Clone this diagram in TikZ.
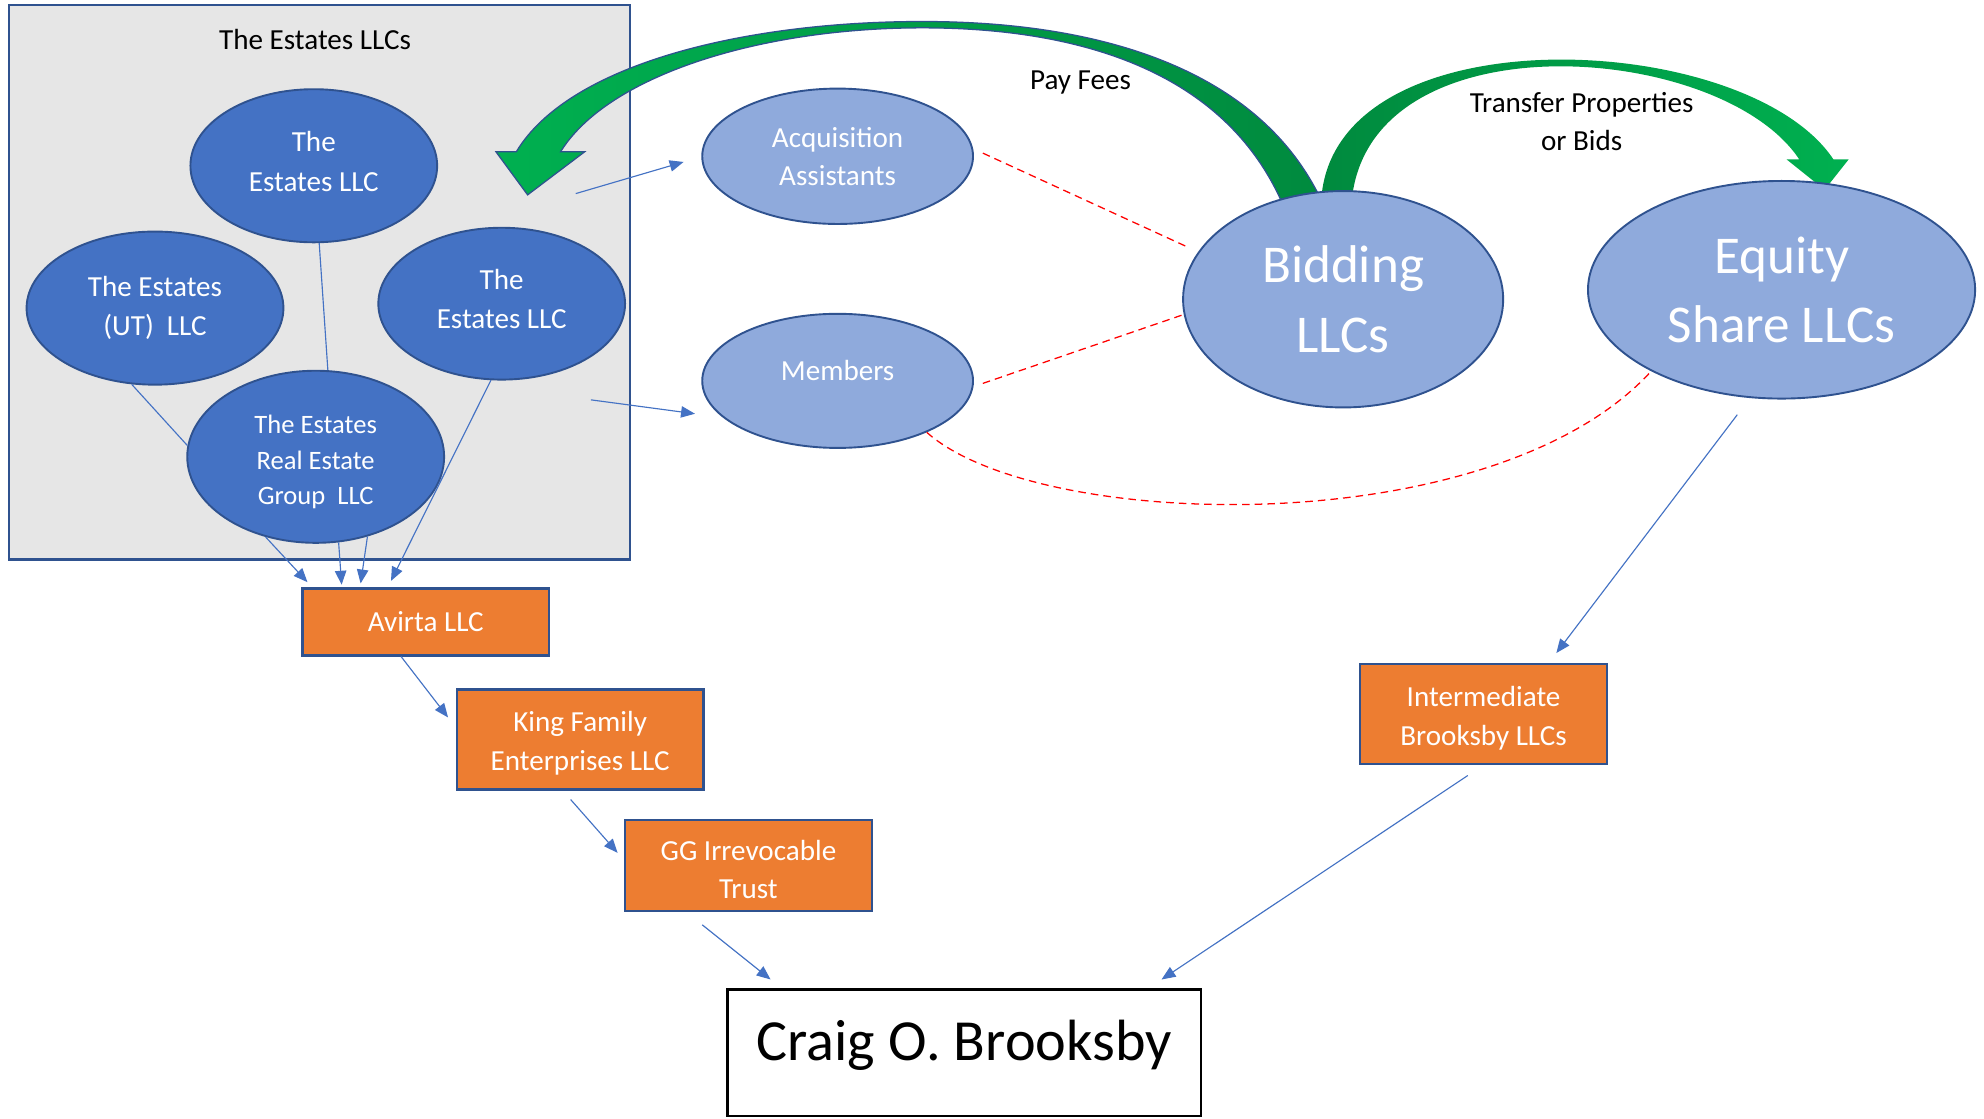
\documentclass[tikz,border=0pt]{standalone}
\usepackage{fontspec}
\setmainfont{Carlito}
\usetikzlibrary{shapes.geometric,arrows.meta}
\definecolor{dblue}{HTML}{4472C4}
\definecolor{lblue}{HTML}{8FAADC}
\definecolor{bordc}{HTML}{2F528F}
\definecolor{orng}{HTML}{ED7D31}
\definecolor{grayc}{HTML}{E6E6E6}
\definecolor{cblue}{HTML}{4472C4}
\definecolor{gbright}{HTML}{00B050}
\definecolor{gdark}{HTML}{008A3E}
\definecolor{gmid}{HTML}{00A046}
\newcommand{\dstrut}[1]{\rule[-#1]{0pt}{#1}}
\newcommand{\hstrut}[1]{\rule{0pt}{#1}}
\tikzset{
  darkell/.style={ellipse, draw=bordc, line width=1.5pt, fill=dblue, text=white, inner sep=0pt, align=center, font=\fontsize{23}{31}\selectfont},
  lightell/.style={ellipse, draw=bordc, line width=1.5pt, fill=lblue, text=white, inner sep=0pt, align=center},
  obox/.style={rectangle, draw=bordc, line width=1.8pt, fill=orng, text=white, align=center, minimum width=195pt, inner sep=0pt, font=\fontsize{23}{30.5}\selectfont},
  conn/.style={draw=cblue, line width=0.9pt, -{Triangle[length=11pt,width=9pt]}},
  plainln/.style={draw=cblue, line width=0.9pt},
  reddash/.style={draw=red, line width=1pt, dash pattern=on 6pt off 4pt},
  lbl/.style={text=black, align=center, inner sep=0pt, font=\fontsize{23}{30}\selectfont}
}
\begin{document}
\begin{tikzpicture}[x=1pt,y=-1pt]
\useasboundingbox (0,0) rectangle (1568,884);
\fill[white] (0,0) rectangle (1568,884);

% container
\node[draw=bordc, line width=2pt, fill=grayc, minimum width=491pt, minimum height=438pt, inner sep=0pt] (gbox) at (252.5,223) {};
\node[lbl] (ttl) at (249,31) {The Estates LLCs};

% green arrows
\shadedraw[draw=bordc, line width=1pt, left color=gbright, right color=gdark]
  (443,120) .. controls (480,60) and (600,22) .. (729,22) .. controls (860,22) and (970,60) .. (1014,162)
  -- (1046,162) .. controls (1000,60) and (880,17) .. (729,17) .. controls (590,17) and (450,50) .. (408,120)
  -- (392,120) -- (417,154) -- (462,120) -- cycle;
\shade[left color=gdark, middle color=gmid, right color=gbright]
  (1044,162) .. controls (1048,8) and (1380,22) .. (1449,126) -- (1461,126) -- (1442,150) -- (1412,126) -- (1422,126)
  .. controls (1360,32) and (1078,12) .. (1068,162) -- cycle;
\node[lbl] (pf) at (854,65) {Pay Fees};
\node[lbl] (tp) at (1250,96) {Transfer Properties\\or Bids};

% estates ellipses
\node[darkell, minimum width=195pt, minimum height=121pt] (e1) at (248,131) {The\\Estates LLC\dstrut{7pt}};
\node[darkell, minimum width=203pt, minimum height=121pt] (eut) at (122.5,243.5) {The Estates\\(UT)\ \ LLC};
\node[darkell, minimum width=195pt, minimum height=120pt] (er) at (396.5,240) {The\\Estates LLC\dstrut{7pt}};
\node[darkell, minimum width=203pt, minimum height=136pt, font=\fontsize{21}{28}\selectfont] (erg) at (249.5,361) {\hstrut{23pt}The Estates\\Real Estate\\Group\ \ LLC};

% light ellipses
\node[lightell, minimum width=214pt, minimum height=107pt, font=\fontsize{23}{30}\selectfont] (acq) at (662,123.5) {Acquisition\\Assistants};
\node[lightell, minimum width=214pt, minimum height=106pt, font=\fontsize{23}{30}\selectfont] (mem) at (662,301) {Members\dstrut{16pt}};
\node[lightell, minimum width=253pt, minimum height=171pt, font=\fontsize{42}{55}\selectfont] (bid) at (1061.5,236.5) {Bidding\\LLCs};
\node[lightell, minimum width=306pt, minimum height=172pt, font=\fontsize{42}{55}\selectfont] (eq) at (1408,229) {Equity\\Share LLCs};

% boxes
\node[obox, minimum height=53pt] (av) at (336.5,491.5) {Avirta LLC};
\node[obox, minimum height=79pt] (kf) at (458.5,584.5) {\hstrut{22pt}King Family\\Enterprises LLC};
\node[obox, minimum height=72pt] (gg) at (591.5,684) {\hstrut{22pt}GG Irrevocable\\Trust};
\node[obox, minimum height=79pt] (ib) at (1172.5,564.5) {\hstrut{22pt}Intermediate\\Brooksby LLCs};
\node[rectangle, draw=black, line width=1.8pt, fill=white, minimum width=374pt, minimum height=100pt, inner sep=0pt, font=\fontsize{46}{50}\selectfont] (cb) at (762,832) {Craig O. Brooksby\dstrut{20pt}};

% free ends
\coordinate (gA) at (455,153);
\coordinate (gM) at (467,316);

% connectors inside container
\draw[plainln] (e1.-86) -- (erg.82);
\draw[plainln] (eut.-107) -- (erg.175);
\draw[conn] (er.-98) -- ([xshift=-27.5pt,yshift=5pt]av.north);
\draw[conn] (erg.-122) -- ([xshift=-93.5pt,yshift=4pt]av.north);
\draw[conn] (erg.-75) -- ([xshift=-66.5pt,yshift=2pt]av.north);
\draw[conn] (erg.-57) -- ([xshift=-51.5pt,yshift=3pt]av.north);

% chain
\draw[conn] ([xshift=-19.5pt]av.south) -- ([xshift=-6pt,yshift=17.5pt]kf.west);
\draw[conn] ([xshift=-7.5pt,yshift=-7pt]kf.south) -- ([xshift=-5pt,yshift=10pt]gg.west);
\draw[conn] ([xshift=-36.5pt,yshift=-10pt]gg.south) -- ([xshift=-153pt,yshift=7pt]cb.north);
\draw[conn] ([xshift=-12.5pt,yshift=-8pt]ib.south) -- ([xshift=156pt,yshift=7pt]cb.north);
\draw[conn] ([xshift=-35pt,yshift=-12pt]eq.south) -- ([xshift=57.5pt,yshift=8pt]ib.north);

% from container
\draw[conn] (gA) -- ([xshift=-14pt,yshift=-4.5pt]acq.west);
\draw[conn] (gM) -- ([xshift=-5pt,yshift=-26pt]mem.west);

% red dashed
\draw[reddash] ([xshift=7pt,yshift=2.5pt]acq.east) -- ([xshift=6pt,yshift=40.5pt]bid.west);
\draw[reddash] ([xshift=7pt,yshift=-2pt]mem.east) -- ([yshift=-12.5pt]bid.west);
\draw[reddash] (mem.-30.5) .. controls (820,420) and (1180,430) .. (eq.-148);
\end{tikzpicture}
\end{document}
